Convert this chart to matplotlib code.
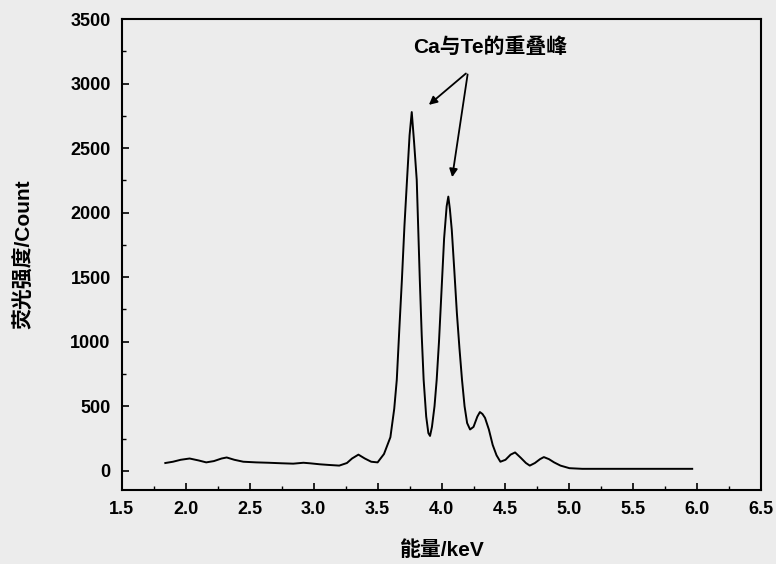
import matplotlib.pyplot as plt
from matplotlib.ticker import MultipleLocator

plt.rcParams['font.family'] = ['Liberation Sans', 'Noto Sans CJK SC', 'DejaVu Sans']
plt.rcParams['axes.unicode_minus'] = False

# 能量 (keV) 与 荧光强度 (Count)
energy = [1.84, 1.90, 1.96, 2.03, 2.10, 2.16, 2.22, 2.28, 2.32, 2.38, 2.45, 2.55,
          2.65, 2.75, 2.84, 2.92, 2.97, 3.05, 3.12, 3.20, 3.26, 3.30, 3.35, 3.40,
          3.45, 3.50, 3.55, 3.60, 3.63, 3.65, 3.67, 3.69, 3.71, 3.73, 3.75, 3.767,
          3.785, 3.806, 3.83, 3.845, 3.86, 3.88, 3.897, 3.91, 3.925, 3.945, 3.962, 3.98,
          4.00, 4.02, 4.04, 4.053, 4.065, 4.08, 4.10, 4.12, 4.14, 4.16, 4.18, 4.20, 4.223,
          4.25, 4.28, 4.30, 4.32, 4.34, 4.37, 4.40, 4.43, 4.46, 4.50, 4.54, 4.575,
          4.62, 4.66, 4.69, 4.73, 4.77, 4.80, 4.84, 4.88, 4.93, 5.00, 5.10, 5.20,
          5.30, 5.40, 5.50, 5.60, 5.70, 5.80, 5.90, 5.96]
counts = [60, 70, 85, 95, 80, 65, 75, 95, 103, 85, 70, 65,
          62, 58, 55, 62, 58, 50, 45, 40, 60, 95, 125, 95,
          70, 65, 130, 260, 480, 705, 1100, 1480, 1900, 2254, 2600, 2780,
          2550, 2254, 1480, 1050, 705, 420, 292, 270, 340, 500, 705, 1000,
          1400, 1800, 2050, 2125, 2030, 1867, 1550, 1221, 950, 705, 500, 370, 320,
          340, 420, 455, 440, 410, 320, 200, 120, 70, 85, 125, 142,
          100, 60, 40, 60, 90, 106, 90, 65, 40, 20, 15, 15,
          15, 15, 15, 15, 15, 15, 15, 15]

bg = '#ececec'
fig = plt.figure(figsize=(7.76, 5.64), dpi=100, facecolor=bg)
ax = fig.add_axes([0.157, 0.131, 0.824, 0.835], facecolor=bg)

ax.plot(energy, counts, color='black', linewidth=1.4)

ax.set_xlim(1.5, 6.5)
ax.set_ylim(-150, 3500)
ax.xaxis.set_major_locator(MultipleLocator(0.5))
ax.xaxis.set_minor_locator(MultipleLocator(0.25))
ax.yaxis.set_major_locator(MultipleLocator(500))
ax.yaxis.set_minor_locator(MultipleLocator(250))
ax.xaxis.set_major_formatter(plt.FormatStrFormatter('%.1f'))
ax.tick_params(which='both', direction='in', top=False, right=False)
ax.tick_params(which='major', length=5, width=1.2, labelsize=13, pad=8)
ax.tick_params(which='minor', length=3, width=1.0)
for lab in ax.get_xticklabels() + ax.get_yticklabels():
    lab.set_fontweight('bold')
for s in ax.spines.values():
    s.set_linewidth(1.5)

ax.set_xlabel('能量/keV', fontsize=15, fontweight='bold', labelpad=16)
ax.set_ylabel('荧光强度/Count', fontsize=15, fontweight='bold', labelpad=26)

# 重叠峰标注
ax.text(3.78, 3280, 'Ca与Te的重叠峰', fontsize=15, fontweight='bold', va='center')
ax.annotate('', xy=(3.884, 2822), xytext=(4.207, 3093),
            arrowprops=dict(arrowstyle='-|>', color='black', lw=1.3, mutation_scale=12))
ax.annotate('', xy=(4.08, 2254), xytext=(4.207, 3093),
            arrowprops=dict(arrowstyle='-|>', color='black', lw=1.3, mutation_scale=12))

plt.savefig('out.png', dpi=100, facecolor=bg)
